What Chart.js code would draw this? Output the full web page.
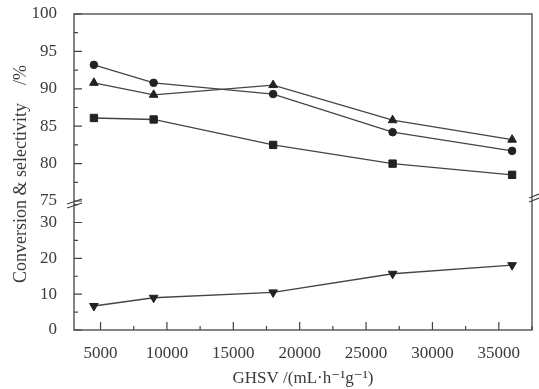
<!DOCTYPE html>
<html>
<head>
<meta charset="utf-8">
<script src="https://cdn.jsdelivr.net/npm/chart.js@4"></script>
<style>
  html, body { margin: 0; padding: 0; background: #fff; }
  #wrap { width: 539px; height: 389px; }
</style>
</head>
<body>
<div id="wrap"><canvas id="grafico"></canvas></div>
<script>
// dados
const ghsv = [4500, 9000, 18000, 27000, 36000];
const serieCirculo = [93.2, 90.8, 89.3, 84.2, 81.7];
const serieTriangulo = [90.8, 89.2, 90.5, 85.8, 83.2];
const serieQuadrado = [86.1, 85.9, 82.5, 80.0, 78.5];
const serieTrianguloInv = [6.7, 9.0, 10.5, 15.7, 18.1];

// rótulos dos eixos
const xTicks = [5000, 10000, 15000, 20000, 25000, 30000, 35000];
const yTopTicks = [75, 80, 85, 90, 95, 100];
const yBotTicks = [0, 10, 20, 30];

const fonte = '"Liberation Serif", "DejaVu Serif", serif';
const corTexto = '#3a3a3a';
const corLinha = '#444';

function pontos(vals) {
  return ghsv.map((x, i) => ({ x: x, y: vals[i] }));
}

// marca principal + marca menor no meio de cada intervalo
function comMenores(majors, passo, min, max) {
  const t = [];
  majors.forEach(v => t.push({ value: v, major: true }));
  for (let v = majors[0] - passo; v <= max; v += passo) {
    if (v >= min && !majors.includes(v)) t.push({ value: v, major: false });
  }
  return t.sort((a, b) => a.value - b.value);
}

function serie(vals, estilo, rot, raio, eixo) {
  return {
    data: pontos(vals),
    yAxisID: eixo,
    borderColor: corLinha,
    borderWidth: 1.3,
    pointStyle: estilo,
    rotation: rot,
    pointRadius: raio,
    pointBackgroundColor: '#222',
    pointBorderColor: '#222',
    pointBorderWidth: 1,
    tension: 0
  };
}

// tira o espaço extra que o Chart.js reserva para os rótulos nas pontas
function ajustaY(s) {
  s.width = 74;
  s.paddingTop = 0;
  s.paddingBottom = 0;
}

// moldura, marcas internas e quebra do eixo
const molduraPlugin = {
  id: 'moldura',
  afterDraw(chart) {
    const ctx = chart.ctx;
    const a = chart.chartArea;
    const sx = chart.scales.x, st = chart.scales.yTop, sb = chart.scales.yBot;
    ctx.save();
    ctx.strokeStyle = corLinha;
    ctx.lineWidth = 1.3;
    ctx.strokeRect(a.left, a.top, a.right - a.left, a.bottom - a.top);

    ctx.lineWidth = 1.2;
    ctx.beginPath();
    sx.ticks.forEach(t => {
      const p = sx.getPixelForValue(t.value);
      const l = t.major ? 8 : 4;
      ctx.moveTo(p, a.bottom);
      ctx.lineTo(p, a.bottom - l);
    });
    [st, sb].forEach(s => {
      s.ticks.forEach(t => {
        const p = s.getPixelForValue(t.value);
        const l = t.major ? 8 : 4;
        ctx.moveTo(a.left, p);
        ctx.lineTo(a.left + l, p);
      });
    });
    ctx.stroke();

    // quebra
    const yb = st.bottom;
    ctx.beginPath();
    ctx.moveTo(a.left - 7, yb + 3); ctx.lineTo(a.left + 8, yb - 2);
    ctx.moveTo(a.left - 7, yb + 7); ctx.lineTo(a.left + 8, yb + 2);
    ctx.moveTo(a.right - 3, yb - 3); ctx.lineTo(a.right + 7, yb - 7);
    ctx.moveTo(a.right - 3, yb + 1); ctx.lineTo(a.right + 7, yb - 3);
    ctx.stroke();

    // título do eixo y
    ctx.fillStyle = corTexto;
    ctx.font = '18px ' + fonte;
    ctx.translate(21, 174);
    ctx.rotate(-Math.PI / 2);
    ctx.textAlign = 'center';
    ctx.textBaseline = 'middle';
    ctx.fillText('Conversion & selectivity    /%', 0, 0);
    ctx.restore();
  }
};

const tickFonte = { family: fonte, size: 17 };

new Chart(document.getElementById('grafico'), {
  type: 'line',
  data: {
    datasets: [
      serie(serieCirculo, 'circle', 0, 3.8, 'yTop'),
      serie(serieTriangulo, 'triangle', 0, 5, 'yTop'),
      serie(serieQuadrado, 'rect', 0, 5.2, 'yTop'),
      serie(serieTrianguloInv, 'triangle', 180, 5, 'yBot')
    ]
  },
  options: {
    responsive: true,
    maintainAspectRatio: false,
    animation: false,
    layout: { padding: { left: 0, right: 7, top: 14, bottom: 0 } },
    plugins: { legend: { display: false }, tooltip: { enabled: false } },
    scales: {
      x: {
        type: 'linear',
        min: 3000,
        max: 37500,
        grid: { display: false },
        border: { display: false },
        afterBuildTicks: s => { s.ticks = comMenores(xTicks, 2500, 3000, 37500); },
        afterFit: s => { s.height = 59; s.paddingLeft = 0; s.paddingRight = 0; },
        ticks: {
          color: corTexto,
          font: tickFonte,
          padding: 5,
          maxRotation: 0,
          autoSkip: false,
          callback: v => xTicks.includes(v) ? String(v) : ''
        },
        title: {
          display: true,
          text: 'GHSV /(mL·h⁻¹g⁻¹)',
          color: corTexto,
          font: { family: fonte, size: 17 },
          padding: { top: 3, bottom: 0 }
        }
      },
      yBot: {
        type: 'linear',
        position: 'left',
        stack: 'v',
        stackWeight: 1,
        min: 0,
        max: 36,
        grid: { display: false },
        border: { display: false },
        afterBuildTicks: s => { s.ticks = comMenores(yBotTicks, 5, 0, 36); },
        afterFit: ajustaY,
        ticks: {
          color: corTexto,
          font: tickFonte,
          padding: 9,
          autoSkip: false,
          callback: v => yBotTicks.includes(v) ? String(v) : ''
        }
      },
      yTop: {
        type: 'linear',
        position: 'left',
        stack: 'v',
        stackWeight: 1.45,
        min: 75,
        max: 100,
        grid: { display: false },
        border: { display: false },
        afterBuildTicks: s => { s.ticks = comMenores(yTopTicks, 2.5, 75, 100); },
        afterFit: ajustaY,
        ticks: {
          color: corTexto,
          font: tickFonte,
          padding: 9,
          autoSkip: false,
          callback: v => yTopTicks.includes(v) ? String(v) : ''
        }
      }
    }
  },
  plugins: [molduraPlugin]
});
</script>
</body>
</html>
